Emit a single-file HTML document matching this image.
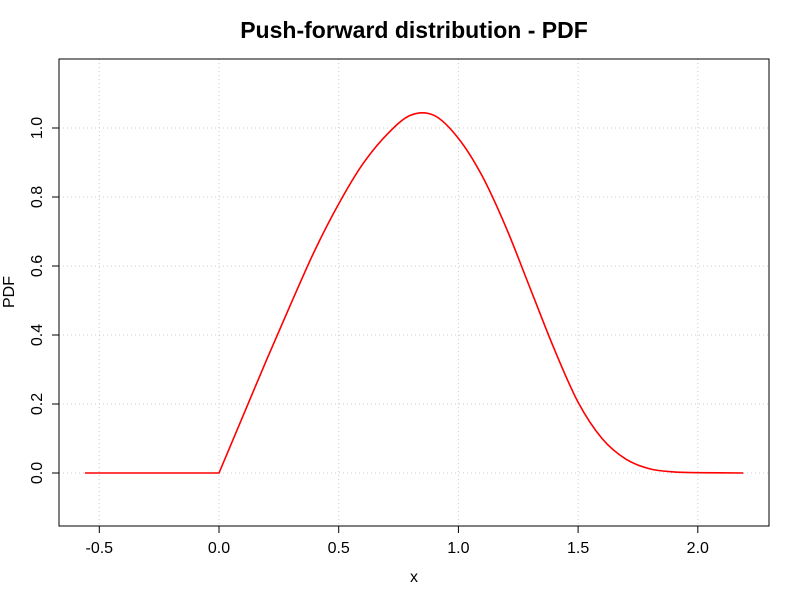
<!DOCTYPE html>
<html><head><meta charset="utf-8"><style>body{margin:0;background:#fff}svg{display:block;font-family:"Liberation Sans",sans-serif}</style></head>
<body>
<svg id="chart" width="800" height="600">
<text x="414" y="38" text-anchor="middle" font-size="23" font-weight="bold">Push-forward distribution - PDF</text>
<g id="grid"></g>
<rect x="59" y="59" width="710" height="467" fill="none" stroke="#000" stroke-width="1"/>
<g id="xaxis"></g>
<g id="yaxis"></g>
<text x="414" y="582" text-anchor="middle" font-size="16">x</text>
<text transform="translate(14,292) rotate(-90)" text-anchor="middle" font-size="16">PDF</text>
<path id="curve" fill="none" stroke="#f00" stroke-width="1.6"/>
</svg>
<script>
const xTicks=[-0.5,0,0.5,1,1.5,2];
const xTickLabels=["-0.5","0.0","0.5","1.0","1.5","2.0"];
const yTicks=[0,0.2,0.4,0.6,0.8,1];
const yTickLabels=["0.0","0.2","0.4","0.6","0.8","1.0"];
const xs=[-0.56,0,0.1,0.2,0.3,0.4,0.5,0.6,0.7,0.8,0.9,1.0,1.1,1.2,1.3,1.4,1.5,1.6,1.7,1.8,1.9,2.0,2.19];
const ys=[0,0,0.165,0.33,0.49,0.645,0.78,0.895,0.98,1.037,1.036,0.97,0.86,0.71,0.535,0.36,0.205,0.1,0.04,0.012,0.003,0.001,0];
const sx=v=>219+v*239.4, sy=v=>473-v*345;
const NS="http://www.w3.org/2000/svg";
const grid=document.getElementById('grid'),xa=document.getElementById('xaxis'),ya=document.getElementById('yaxis');
function mk(tag,attrs,parent){const e=document.createElementNS(NS,tag);for(const k in attrs)e.setAttribute(k,attrs[k]);parent.appendChild(e);return e;}
xTicks.forEach((t,i)=>{
  const g=mk('line',{x1:sx(t),x2:sx(t),y1:59,y2:526,stroke:'#ccc','stroke-dasharray':'1,3'},grid);
  
  
  const l=mk('line',{x1:sx(t),x2:sx(t),y1:526,y2:533,stroke:'#000'},xa);
  
  
  const tx=mk('text',{x:sx(t),y:553,'text-anchor':'middle','font-size':16},xa);tx.textContent=xTickLabels[i];
  
  
});
mk('line',{x1:sx(xTicks[0]),x2:sx(xTicks[xTicks.length-1]),y1:526,y2:526,stroke:'#000'},xa);
yTicks.forEach((t,i)=>{
  const g=mk('line',{x1:59,x2:769,y1:sy(t),y2:sy(t),stroke:'#ccc','stroke-dasharray':'1,3'},grid);
  
  
  const l=mk('line',{x1:52,x2:59,y1:sy(t),y2:sy(t),stroke:'#000'},ya);
  
  
  const tx=mk('text',{transform:`translate(42,${sy(t)}) rotate(-90)`,'text-anchor':'middle','font-size':16},ya);tx.textContent=yTickLabels[i];
  
  
});
mk('line',{x1:59,x2:59,y1:sy(yTicks[0]),y2:sy(yTicks[yTicks.length-1]),stroke:'#000'},ya);
let d='M'+sx(xs[0])+','+sy(ys[0])+' L'+sx(xs[1])+','+sy(ys[1]);
const px=xs.slice(1),py=ys.slice(1);
for(let i=0;i<px.length-1;i++){
  const p0=i>0?i-1:i,p3=i+2<px.length?i+2:i+1;
  const x0=sx(px[p0]),y0=sy(py[p0]),x1=sx(px[i]),y1=sy(py[i]),x2=sx(px[i+1]),y2=sy(py[i+1]),x3=sx(px[p3]),y3=sy(py[p3]);
  const c1x=x1+(x2-x0)/6,c1y=y1+(y2-y0)/6,c2x=x2-(x3-x1)/6,c2y=y2-(y3-y1)/6;
  d+=` C${c1x},${c1y} ${c2x},${c2y} ${x2},${y2}`;
}
document.getElementById('curve').setAttribute('d',d);
</script>
</body></html>
